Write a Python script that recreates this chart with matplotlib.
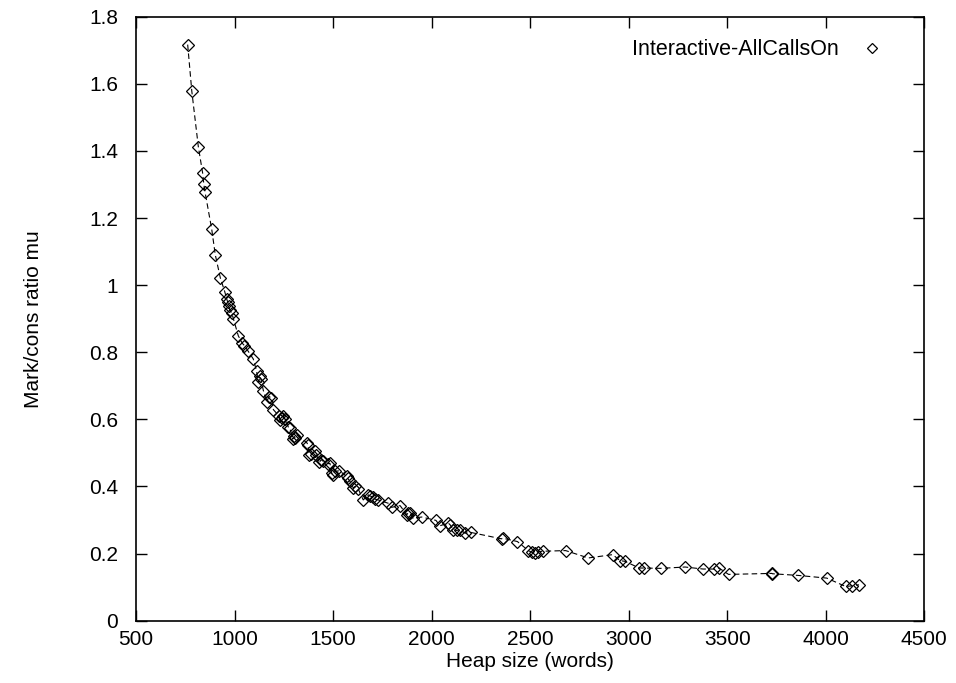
import matplotlib
matplotlib.use("Agg")
import matplotlib.pyplot as plt
from matplotlib.lines import Line2D

plt.rcParams['font.family'] = ['Liberation Sans', 'DejaVu Sans']

heap_size = [762, 783, 816, 838, 844, 850, 884, 902, 928, 950, 960, 965, 970, 975, 986, 994,
             1019, 1039, 1050, 1067, 1095, 1112, 1121, 1129, 1134, 1146, 1163, 1175, 1185, 1197,
             1227, 1231, 1239, 1247, 1255, 1273, 1280, 1295, 1303, 1308, 1315, 1366, 1372, 1379,
             1390, 1408, 1415, 1430, 1440, 1450, 1476, 1484, 1493, 1500, 1510, 1532, 1569, 1575,
             1586, 1603, 1611, 1628, 1653, 1679, 1687, 1704, 1715, 1729, 1780, 1797, 1840, 1874,
             1882, 1890, 1904, 1950, 2022, 2042, 2085, 2095, 2110, 2127, 2144, 2169, 2200, 2355,
             2361, 2435, 2491, 2508, 2525, 2541, 2564, 2680, 2795, 2919, 2956, 2981, 3054, 3079,
             3162, 3286, 3378, 3434, 3458, 3507, 3727, 3729, 3860, 4005, 4101, 4135, 4169]
mu = [1.717, 1.578, 1.413, 1.334, 1.301, 1.278, 1.167, 1.091, 1.021, 0.981, 0.959, 0.950, 0.939,
      0.927, 0.917, 0.900, 0.849, 0.827, 0.820, 0.805, 0.780, 0.743, 0.710, 0.728, 0.720, 0.686,
      0.653, 0.668, 0.665, 0.629, 0.609, 0.597, 0.604, 0.611, 0.600, 0.577, 0.575, 0.541, 0.549,
      0.545, 0.554, 0.531, 0.525, 0.495, 0.498, 0.505, 0.495, 0.472, 0.480, 0.475, 0.468, 0.469,
      0.440, 0.435, 0.445, 0.447, 0.430, 0.424, 0.415, 0.395, 0.400, 0.392, 0.360, 0.375, 0.372,
      0.368, 0.362, 0.360, 0.350, 0.338, 0.343, 0.316, 0.322, 0.321, 0.306, 0.309, 0.299, 0.283,
      0.291, 0.285, 0.271, 0.269, 0.271, 0.261, 0.263, 0.244, 0.246, 0.236, 0.209, 0.204, 0.202,
      0.206, 0.207, 0.209, 0.187, 0.197, 0.179, 0.177, 0.157, 0.157, 0.156, 0.160, 0.154, 0.154,
      0.157, 0.138, 0.141, 0.140, 0.135, 0.127, 0.102, 0.104, 0.107]

x_ticks = [500, 1000, 1500, 2000, 2500, 3000, 3500, 4000, 4500]
y_ticks = [0, 0.2, 0.4, 0.6, 0.8, 1.0, 1.2, 1.4, 1.6, 1.8]
y_tick_labels = ["0", "0.2", "0.4", "0.6", "0.8", "1", "1.2", "1.4", "1.6", "1.8"]
series_label = "Interactive-AllCallsOn"

fig = plt.figure(figsize=(9.56, 6.83), dpi=100)
ax = fig.add_axes([0.1423, 0.0912, 0.8245, 0.8843])

ax.plot(heap_size, mu, color='black', linestyle=(0, (5, 3)), linewidth=0.8,
        marker='D', markersize=6, markerfacecolor='none', markeredgecolor='black',
        markeredgewidth=0.9)

ax.set_xlim(500, 4500)
ax.set_ylim(0, 1.8)
ax.set_xticks(x_ticks)
ax.set_xticklabels([str(t) for t in x_ticks])
ax.set_yticks(y_ticks)
ax.set_yticklabels(y_tick_labels)
ax.tick_params(direction='in', length=8, width=1, top=True, right=True,
               labelsize=15)
ax.tick_params(axis='y', pad=13)
ax.tick_params(axis='x', pad=7)
for s in ax.spines.values():
    s.set_linewidth(1.2)

ax.set_xlabel("Heap size (words)", fontsize=15, labelpad=2)
ax.set_ylabel("Mark/cons ratio mu", fontsize=15, labelpad=33)

handle = Line2D([], [], linestyle='none', marker='D', markersize=5,
                markerfacecolor='none', markeredgecolor='black', markeredgewidth=0.9)
ax.legend([handle], [series_label], loc='upper right', frameon=False, markerfirst=False,
          fontsize=15.5, bbox_to_anchor=(0.985, 0.995), handletextpad=0.5)

fig.savefig("out.png", dpi=100)
